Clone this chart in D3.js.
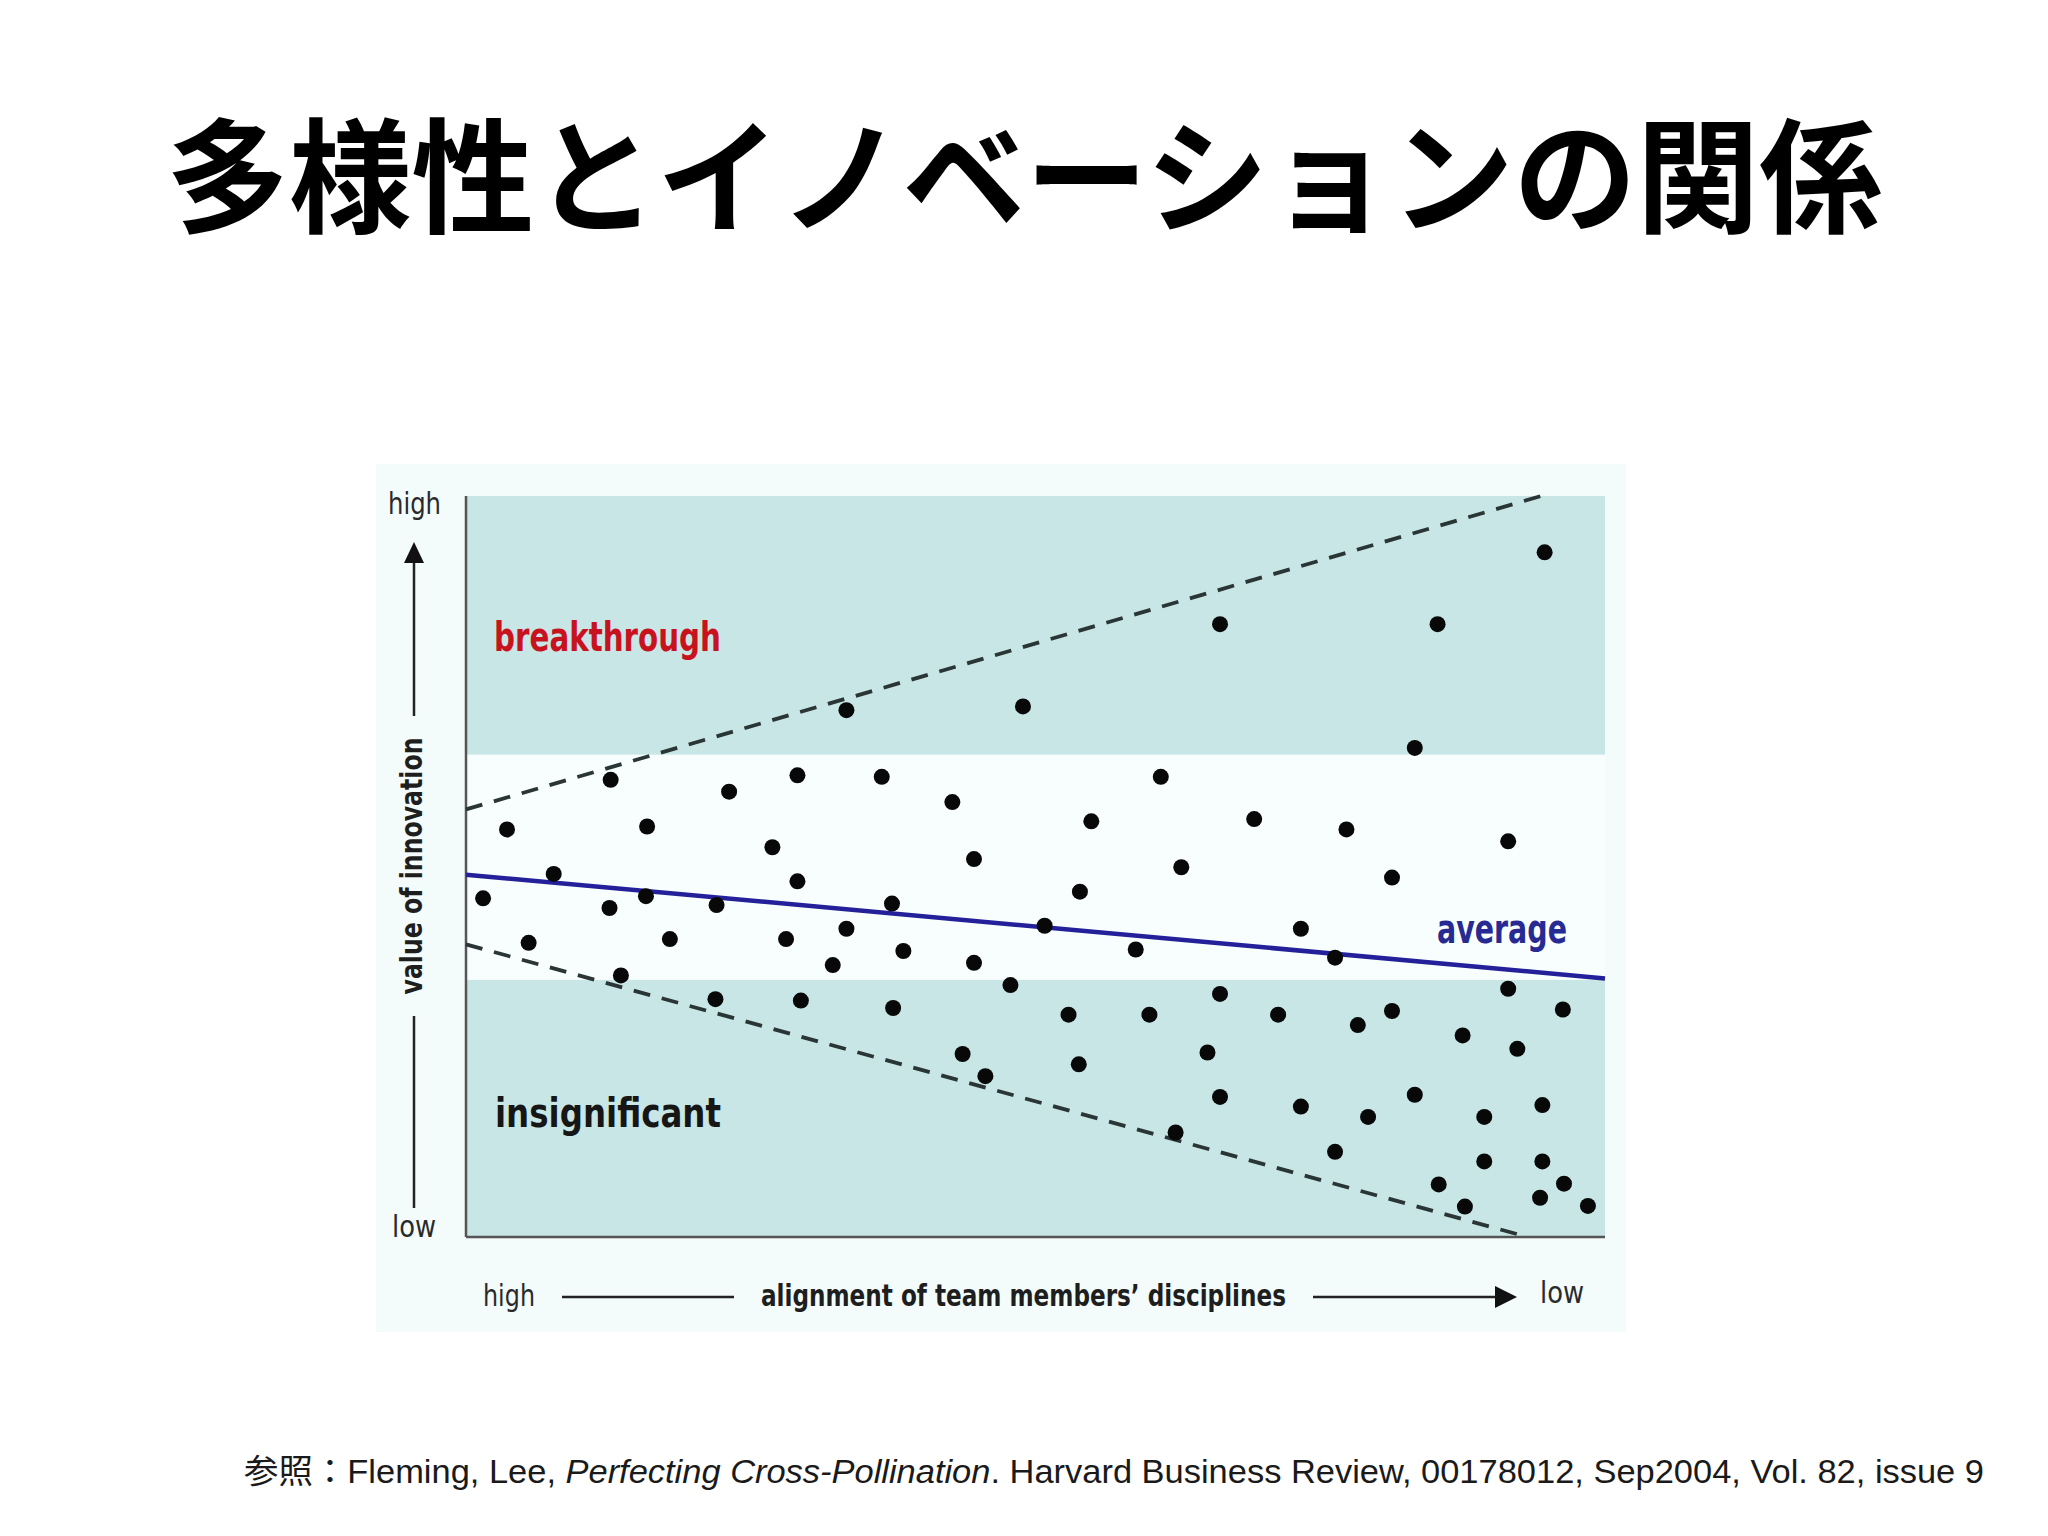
<!DOCTYPE html>
<html><head><meta charset="utf-8">
<script src="https://cdn.jsdelivr.net/npm/d3@7"></script>
<style>html,body{margin:0;padding:0;background:#fff;}svg{display:block;}</style>
</head><body>
<script>
// ---- data (x: alignment high→low 0..100, y: value of innovation low→high 0..100)
const pointsX = [1.5,3.6,5.5,7.7,12.7,12.6,13.6,15.9,15.8,17.9,21.9,22.0,23.1,26.9,28.1,29.1,29.1,29.4,32.2,33.4,33.4,36.5,37.4,37.5,38.4,42.7,43.6,44.6,44.6,45.6,47.8,48.9,50.8,52.9,53.8,53.9,54.9,58.8,60.0,61.0,62.3,62.8,65.1,66.2,66.2,66.2,69.2,71.3,73.3,73.3,76.3,76.3,77.3,78.3,79.2,81.3,81.3,83.3,83.3,85.3,85.4,87.5,87.7,89.4,89.4,91.5,91.5,92.3,94.5,94.5,94.3,94.7,96.3,96.4,98.5];
const pointsY = [45.7,55.0,39.7,49.0,61.7,44.4,35.3,55.4,46.0,40.2,32.1,44.8,60.1,52.6,40.2,62.3,48.0,31.9,36.7,71.1,41.6,62.1,45.0,30.9,38.6,58.7,24.7,51.0,37.0,21.7,34.0,71.6,42.0,30.0,23.3,46.6,56.1,38.8,30.0,62.1,14.1,49.9,24.9,82.7,32.8,18.9,56.4,30.0,41.6,17.6,37.7,11.5,55.0,28.6,16.2,48.5,30.5,66.0,19.2,82.7,7.1,27.2,4.1,16.2,10.2,53.4,33.5,25.4,17.8,10.2,5.3,92.4,30.7,7.2,4.2];
const bandLimits = [[0,34.7],[65.1,100]];
const upperBoundX = [0,94.4], upperBoundY = [57.7,100];
const lowerBoundX = [0,93.2], lowerBoundY = [39.5,0];
const averageX = [0,100], averageY = [48.9,34.9];
const regionLabels = ["breakthrough","average","insignificant"];
const axisLabels = {yHigh:"high", yLow:"low", yTitle:"value of innovation", xHigh:"high", xLow:"low", xTitle:"alignment of team members\u2019 disciplines"};
const titleText = "多様性とイノベーションの関係";

const W=2048,H=1536;
const svg=d3.select("body").append("svg").attr("width",W).attr("height",H);
svg.append("rect").attr("width",W).attr("height",H).attr("fill","#ffffff");

const x=d3.scaleLinear().domain([0,100]).range([466,1605]);
const y=d3.scaleLinear().domain([0,100]).range([1237,496]);

// title
svg.append("text").attr("x",1024).attr("y",169).attr("text-anchor","middle")
  .attr("dominant-baseline","central")
  .style("font-family","'Noto Sans CJK JP'").style("font-weight","700").style("font-size","124px")
  .attr("textLength",1716).attr("lengthAdjust","spacingAndGlyphs")
  .attr("fill","#000").text(titleText);

// chart backdrop (scanned figure tint)
svg.append("rect").attr("x",376).attr("y",464).attr("width",1250).attr("height",868).attr("fill","#f3fbfb");
// plot middle band
svg.append("rect").attr("x",x(0)).attr("y",y(100)).attr("width",x(100)-x(0)).attr("height",y(0)-y(100)).attr("fill","#f8fdfd");
// teal bands
svg.selectAll(".band").data(bandLimits).enter().append("rect")
  .attr("x",x(0)).attr("width",x(100)-x(0))
  .attr("y",d=>y(d[1])).attr("height",d=>y(d[0])-y(d[1]))
  .attr("fill","#c8e6e6");

// frame
svg.append("line").attr("x1",x(0)).attr("x2",x(0)).attr("y1",y(100)).attr("y2",y(0)).attr("stroke","#555").attr("stroke-width",2.5);
svg.append("line").attr("x1",x(0)).attr("x2",x(100)).attr("y1",y(0)).attr("y2",y(0)).attr("stroke","#555").attr("stroke-width",2.5);

const line=d3.line().x(d=>x(d[0])).y(d=>y(d[1]));
// dashed bounds
svg.append("path").attr("d",line(d3.zip(upperBoundX,upperBoundY))).attr("fill","none").attr("stroke","#2a3535").attr("stroke-width",3.8).attr("stroke-dasharray","17,12");
svg.append("path").attr("d",line(d3.zip(lowerBoundX,lowerBoundY))).attr("fill","none").attr("stroke","#2a3535").attr("stroke-width",3.8).attr("stroke-dasharray","17,12");
// average
svg.append("path").attr("d",line(d3.zip(averageX,averageY))).attr("fill","none").attr("stroke","#23209a").attr("stroke-width",4.5);

// points
svg.selectAll(".pt").data(d3.zip(pointsX,pointsY)).enter().append("circle")
  .attr("cx",d=>x(d[0])).attr("cy",d=>y(d[1])).attr("r",8).attr("fill","#080808");

// region labels
const lab=(t,xx,yy,w,col,wt)=>svg.append("text").attr("x",xx).attr("y",yy)
  .style("font-family","'DejaVu Sans Condensed','DejaVu Sans'").style("font-weight",wt||"700").style("font-size","41px")
  .attr("textLength",w).attr("lengthAdjust","spacingAndGlyphs").attr("fill",col).text(t);
lab(regionLabels[0],494,651,227,"#c8121e");
lab(regionLabels[1],1437,943,130,"#262a92","600");
lab(regionLabels[2],495,1127,226,"#161616","600");

// axis annotations
const ax=(t,xx,yy,w,anchor)=>svg.append("text").attr("x",xx).attr("y",yy).attr("text-anchor",anchor||"start")
  .style("font-family","'DejaVu Sans Condensed','DejaVu Sans'").style("font-size","31px")
  .attr("textLength",w).attr("lengthAdjust","spacingAndGlyphs").attr("fill","#2a2a2a").text(t);
ax(axisLabels.yHigh,388,514,53);
ax(axisLabels.yLow,392,1237,44);
ax(axisLabels.xHigh,483,1306,52);
ax(axisLabels.xLow,1540,1303,44);
svg.append("text").attr("x",761).attr("y",1306)
  .style("font-family","'DejaVu Sans Condensed','DejaVu Sans'").style("font-weight","700").style("font-size","31px")
  .attr("textLength",525).attr("lengthAdjust","spacingAndGlyphs").attr("fill","#1e1e1e").text(axisLabels.xTitle);
svg.append("text").attr("transform","translate(422,866) rotate(-90)").attr("text-anchor","middle")
  .style("font-family","'DejaVu Sans Condensed','DejaVu Sans'").style("font-weight","700").style("font-size","31px")
  .attr("textLength",257).attr("lengthAdjust","spacingAndGlyphs").attr("fill","#1e1e1e").text(axisLabels.yTitle);

// arrows/lines
const g=svg.append("g").attr("stroke","#222").attr("stroke-width",2.5);
g.append("line").attr("x1",414).attr("x2",414).attr("y1",556).attr("y2",716);
g.append("line").attr("x1",414).attr("x2",414).attr("y1",1016).attr("y2",1208);
g.append("line").attr("x1",562).attr("x2",734).attr("y1",1297).attr("y2",1297);
g.append("line").attr("x1",1313).attr("x2",1500).attr("y1",1297).attr("y2",1297);
svg.append("path").attr("d","M414,542 L404,563 L424,563 Z").attr("fill","#111");
svg.append("path").attr("d","M1517,1297 L1495,1286 L1495,1308 Z").attr("fill","#111");

// footer
const foot=svg.append("text").attr("x",244).attr("y",1483)
  .style("font-family","'Liberation Sans','Noto Sans CJK JP'").style("font-size","33px").attr("fill","#1a1a1a")
  .attr("textLength",1740).attr("lengthAdjust","spacingAndGlyphs");
foot.append("tspan").text("参照：Fleming, Lee, ");
foot.append("tspan").style("font-style","italic").text("Perfecting Cross-Pollination");
foot.append("tspan").text(". Harvard Business Review, 00178012, Sep2004, Vol. 82, issue 9");
</script>
</body></html>
